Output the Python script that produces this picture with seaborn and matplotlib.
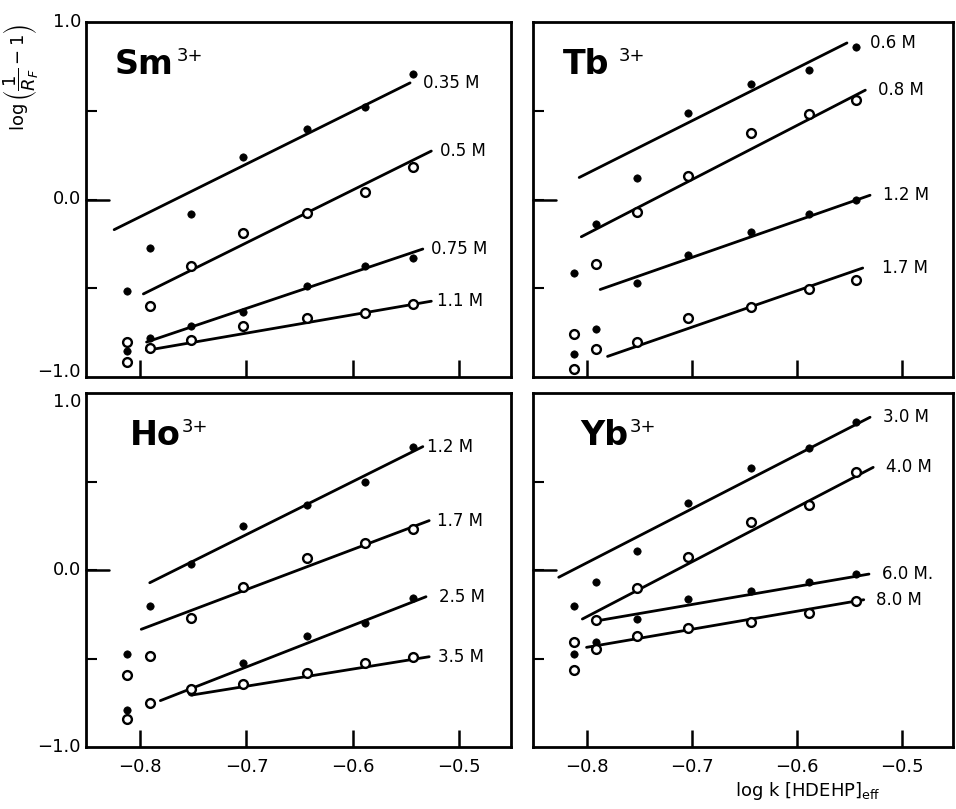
import numpy as np
import pandas as pd
import matplotlib
matplotlib.use("Agg")
import matplotlib.pyplot as plt
import seaborn as sns

# ---------------- data ----------------
x_vals = [-0.812, -0.791, -0.752, -0.703, -0.643, -0.588, -0.543]

panels = ["Sm", "Tb", "Ho", "Yb"]

# series labels per panel
sm_labels = ["0.35 M", "0.5 M", "0.75 M", "1.1 M"]
tb_labels = ["0.6 M", "0.8 M", "1.2 M", "1.7 M"]
ho_labels = ["1.2 M", "1.7 M", "2.5 M", "3.5 M"]
yb_labels = ["3.0 M", "4.0 M", "6.0 M.", "8.0 M"]

# point values (NaN = no point)
sm_y = [
    [-0.513, -0.273, -0.084, 0.240, 0.399, 0.521, 0.708],
    [-0.803, -0.601, -0.373, -0.191, -0.077, 0.043, 0.184],
    [-0.856, -0.781, -0.713, -0.631, -0.485, -0.373, -0.331],
    [-0.916, -0.837, -0.794, -0.710, -0.669, -0.639, -0.588],
]
tb_y = [
    [-0.414, -0.139, 0.120, 0.489, 0.648, 0.732, 0.858],
    [-0.760, -0.363, -0.073, 0.133, 0.376, 0.483, 0.560],
    [-0.869, -0.732, -0.470, -0.313, -0.185, -0.082, -0.002],
    [-0.953, -0.844, -0.803, -0.669, -0.607, -0.504, -0.453],
]
ho_y = [
    [-0.475, -0.203, 0.034, 0.249, 0.367, 0.495, 0.697],
    [-0.593, -0.484, -0.269, -0.094, 0.070, 0.154, 0.230],
    [-0.791, np.nan, -0.687, -0.527, -0.373, -0.301, -0.160],
    [-0.844, -0.753, -0.674, -0.646, -0.584, -0.524, -0.493],
]
yb_y = [
    [-0.201, -0.066, 0.106, 0.377, 0.576, 0.687, 0.834],
    [-0.409, -0.282, -0.102, 0.075, 0.269, 0.367, 0.552],
    [-0.475, -0.409, -0.277, -0.164, -0.117, -0.070, -0.023],
    [-0.563, -0.446, -0.371, -0.330, -0.292, -0.245, -0.173],
]

# fitted straight lines: (x_start, y_start, x_end, y_end)
sm_fit = [(-0.8245, -0.170, -0.546, 0.657), (-0.797, -0.532, -0.526, 0.273),
          (-0.794, -0.803, -0.534, -0.279), (-0.794, -0.850, -0.526, -0.573)]
tb_fit = [(-0.807, 0.124, -0.552, 0.882), (-0.805, -0.210, -0.5345, 0.616),
          (-0.787, -0.507, -0.530, 0.024), (-0.780, -0.884, -0.537, -0.386)]
ho_fit = [(-0.791, -0.072, -0.534, 0.697), (-0.799, -0.335, -0.528, 0.279),
          (-0.781, -0.738, -0.531, -0.151), (-0.751, -0.706, -0.528, -0.490)]
yb_fit = [(-0.8265, -0.041, -0.530, 0.863), (-0.804, -0.277, -0.527, 0.580),
          (-0.789, -0.286, -0.531, -0.023), (-0.800, -0.437, -0.536, -0.168)]

filled = [True, False, True, False]

# ---------------- figure ----------------
sns.set_style("ticks")
plt.rcParams["font.family"] = ["DejaVu Sans"]
plt.rcParams["mathtext.fontset"] = "dejavusans"
plt.rcParams["text.color"] = "black"
plt.rcParams["xtick.color"] = "black"
plt.rcParams["ytick.color"] = "black"
plt.rcParams["axes.edgecolor"] = "black"

fig = plt.figure(figsize=(9.56, 8.09), dpi=100)
W, H = 956, 809

def box(l, r, t, b):
    return [l / W, 1 - b / H, (r - l) / W, (b - t) / H]

rects = {
    "Sm": box(86, 511, 22, 377),
    "Tb": box(533, 953, 22, 377),
    "Ho": box(86, 511, 393, 747),
    "Yb": box(533, 953, 393, 747),
}
data = {"Sm": (sm_y, sm_fit, sm_labels), "Tb": (tb_y, tb_fit, tb_labels),
        "Ho": (ho_y, ho_fit, ho_labels), "Yb": (yb_y, yb_fit, yb_labels)}
label_dx = {"Sm": [0.012, 0.008, 0.008, 0.005],
            "Tb": [0.022, 0.012, 0.012, 0.018],
            "Ho": [0.004, 0.007, 0.012, 0.008],
            "Yb": [0.012, 0.012, 0.012, 0.012]}
title_x = {"Sm": 0.068, "Tb": 0.07, "Ho": 0.103, "Yb": 0.112}
sup_dx = {"Sm": 2, "Tb": 7, "Ho": 1, "Yb": 1}

for name in panels:
    ax = fig.add_axes(rects[name])
    ys, fits, labels = data[name]
    for i, (yv, fit, lab) in enumerate(zip(ys, fits, labels)):
        df = pd.DataFrame({"x": x_vals, "y": yv}).dropna()
        if filled[i]:
            sns.scatterplot(data=df, x="x", y="y", ax=ax, s=28, color="black",
                            edgecolor="black", linewidth=0.5, zorder=3)
        else:
            sns.scatterplot(data=df, x="x", y="y", ax=ax, s=40, facecolor="white",
                            edgecolor="black", linewidth=1.7, zorder=3)
        ldf = pd.DataFrame({"x": [fit[0], fit[2]], "y": [fit[1], fit[3]]})
        sns.lineplot(data=ldf, x="x", y="y", ax=ax, color="black", linewidth=2.0,
                     zorder=2, estimator=None)
        ax.text(fit[2] + label_dx[name][i], fit[3], lab, fontsize=12,
                va="center", ha="left")

    ax.set_xlim(-0.851, -0.451)
    ax.set_ylim(-1.0, 1.0)
    ax.set_xlabel("")
    ax.set_ylabel("")
    ax.set_xticks([-0.8, -0.7, -0.6, -0.5])
    ax.set_yticks([-0.5, 0.0, 0.5])
    ax.tick_params(axis="x", direction="in", length=12, width=1.8)
    ax.tick_params(axis="y", direction="in", length=8, width=1.5)
    for sp in ax.spines.values():
        sp.set_visible(True)
        sp.set_linewidth(2.0)
    ax.set_yticklabels([])
    if name in ("Ho", "Yb"):
        ax.set_xticklabels(["\u22120.8", "\u22120.7", "\u22120.6", "\u22120.5"],
                           fontsize=13)
        ax.tick_params(axis="x", pad=8)
    else:
        ax.set_xticklabels([])
    # longer tick at 0.0
    ax.plot([0, 0.055], [0.5, 0.5], transform=ax.transAxes, color="black",
            linewidth=1.8, clip_on=False)
    if name in ("Sm", "Ho"):
        ax.text(-0.012, 0.5, "0.0", transform=ax.transAxes,
                ha="right", va="center", fontsize=13)
        if name == "Sm":
            ax.text(-0.012, 1.0, "1.0", transform=ax.transAxes,
                    ha="right", va="center", fontsize=13)
            ax.text(-0.012, 0.0, "\u22121.0", transform=ax.transAxes,
                    ha="right", va="baseline", fontsize=13)
        else:
            ax.text(-0.012, 1.0, "1.0", transform=ax.transAxes,
                    ha="right", va="top", fontsize=13)
            ax.text(-0.012, 0.0, "\u22121.0", transform=ax.transAxes,
                    ha="right", va="center", fontsize=13)
    t = ax.text(title_x[name], 0.88, name, transform=ax.transAxes,
                fontsize=24, fontweight="bold", ha="left", va="center")
    ax.annotate("3+", xy=(1.0, 1.02), xycoords=t, xytext=(sup_dx[name], 0),
                textcoords="offset points", fontsize=13, ha="left", va="top")

fig.text(0.021, 0.905, r"$\log\left(\dfrac{1}{R_F}-1\right)$", rotation=90,
         fontsize=13, ha="center", va="center")
fig.text(0.845, 0.022, r"log k $\left[\mathrm{HDEHP}\right]_{\mathrm{eff}}$",
         fontsize=13, ha="center", va="center")

fig.savefig("out.png", dpi=100, facecolor="white")
